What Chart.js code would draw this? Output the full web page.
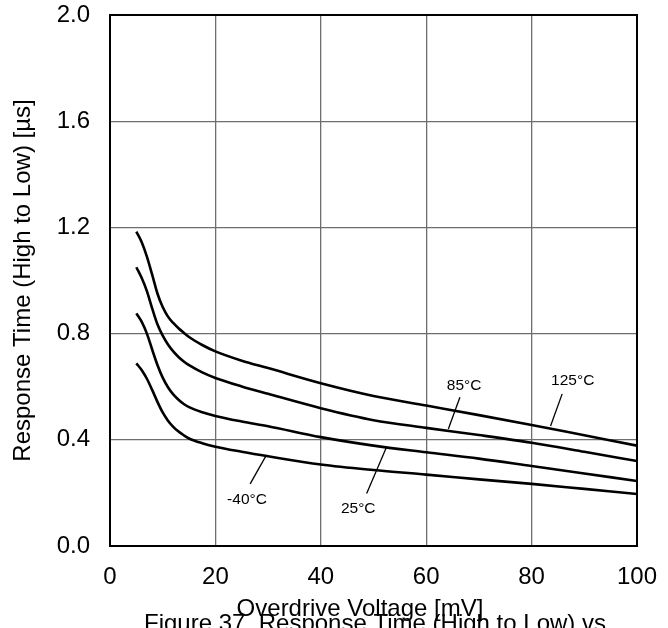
<!DOCTYPE html>
<html>
<head>
<meta charset="utf-8">
<script src="https://cdn.jsdelivr.net/npm/chart.js@4.4.1/dist/chart.umd.min.js"></script>
<style>
  html, body { margin: 0; padding: 0; background: #fff; overflow: hidden; }
  #wrap { width: 668px; height: 628px; position: relative; }
</style>
</head>
<body>
<div id="wrap"><canvas id="chart"></canvas></div>
<script>
// overdrive voltage [mV] and response time [us] per temperature
const overdrive = [5, 6, 7, 8, 9, 10, 11, 12, 13, 14, 15, 17.5, 20, 25, 30, 40, 50, 60, 70, 80, 90, 100];
const t125 = [1.184, 1.145, 1.09, 1.022, 0.951, 0.9, 0.864, 0.84, 0.82, 0.803, 0.787, 0.757, 0.733, 0.698, 0.67, 0.613, 0.565, 0.529, 0.493, 0.456, 0.417, 0.378];
const t85  = [1.05, 1.01, 0.96, 0.895, 0.835, 0.792, 0.759, 0.733, 0.712, 0.695, 0.681, 0.654, 0.633, 0.601, 0.573, 0.519, 0.474, 0.445, 0.418, 0.389, 0.355, 0.32];
const t25  = [0.876, 0.845, 0.8, 0.74, 0.682, 0.634, 0.598, 0.571, 0.551, 0.535, 0.523, 0.504, 0.49, 0.469, 0.451, 0.41, 0.378, 0.353, 0.329, 0.301, 0.273, 0.245];
const tm40 = [0.688, 0.663, 0.63, 0.588, 0.543, 0.503, 0.472, 0.449, 0.431, 0.417, 0.405, 0.387, 0.374, 0.355, 0.338, 0.307, 0.286, 0.269, 0.251, 0.234, 0.215, 0.196];

const xTicks = [0, 20, 40, 60, 80, 100];
const yTicks = [0, 0.4, 0.8, 1.2, 1.6, 2.0];

// curve labels with leader lines (data coordinates)
const curveLabels = [
  { text: '125°C', x: 87.8, y: 0.623, from: [85.8, 0.573], to: [83.6, 0.452] },
  { text: '85°C',  x: 67.2, y: 0.603, from: [66.4, 0.560], to: [64.2, 0.441] },
  { text: '25°C',  x: 47.1, y: 0.142, from: [48.7, 0.198], to: [52.5, 0.374] },
  { text: '-40°C', x: 26.0, y: 0.173, from: [26.6, 0.234], to: [29.7, 0.343] }
];

const FONT = 'Arial, "Liberation Sans", sans-serif';

function series(ys) {
  return overdrive.map((x, i) => ({ x: x, y: ys[i] }));
}

function curve(ys) {
  return {
    data: series(ys),
    borderColor: '#000',
    borderWidth: 2.6,
    pointRadius: 0,
    fill: false,
    cubicInterpolationMode: 'monotone'
  };
}

const framePlugin = {
  id: 'frame',
  beforeDatasetsDraw(chart) {
    const { ctx, chartArea: a } = chart;
    ctx.save();
    ctx.strokeStyle = '#000';
    ctx.lineWidth = 2;
    ctx.strokeRect(a.left, a.top, a.right - a.left, a.bottom - a.top);
    ctx.restore();
  },
  afterDraw(chart) {
    const { ctx } = chart;
    const xs = chart.scales.x, ys = chart.scales.y;
    ctx.save();
    ctx.fillStyle = '#000';
    ctx.strokeStyle = '#000';
    ctx.lineWidth = 1.3;
    ctx.font = '15.5px ' + FONT;
    ctx.textAlign = 'center';
    ctx.textBaseline = 'middle';
    curveLabels.forEach(l => {
      ctx.beginPath();
      ctx.moveTo(xs.getPixelForValue(l.from[0]), ys.getPixelForValue(l.from[1]));
      ctx.lineTo(xs.getPixelForValue(l.to[0]), ys.getPixelForValue(l.to[1]));
      ctx.stroke();
      ctx.fillText(l.text, xs.getPixelForValue(l.x), ys.getPixelForValue(l.y));
    });
    // x axis title and figure caption (caption runs off the bottom edge)
    ctx.font = '24px ' + FONT;
    ctx.textBaseline = 'alphabetic';
    ctx.fillText('Figure 37. Response Time (High to Low) vs', 375, 631);
    ctx.fillText('Overdrive Voltage [mV]', 360, 616);
    ctx.restore();
  }
};

new Chart(document.getElementById('chart').getContext('2d'), {
  type: 'line',
  data: {
    datasets: [curve(t125), curve(t85), curve(t25), curve(tm40)]
  },
  options: {
    responsive: true,
    maintainAspectRatio: false,
    animation: false,
    layout: { padding: { top: 15, right: 31, left: 0, bottom: 0 } },
    plugins: {
      legend: { display: false },
      tooltip: { enabled: false }
    },
    scales: {
      x: {
        type: 'linear',
        min: 0,
        max: 100,
        afterBuildTicks: s => { s.ticks = xTicks.map(v => ({ value: v })); },
        afterFit: s => { s.height = 82; s.paddingLeft = 0; s.paddingRight = 0; },
        grid: { color: '#6e6e6e', lineWidth: 1.3, drawTicks: false },
        border: { display: false },
        ticks: { color: '#000', font: { family: FONT, size: 24 }, padding: 17 }
      },
      y: {
        min: 0,
        max: 2,
        afterBuildTicks: s => { s.ticks = yTicks.map(v => ({ value: v })); },
        afterFit: s => { s.width = 110; s.paddingTop = 0; s.paddingBottom = 0; },
        grid: { color: '#6e6e6e', lineWidth: 1.3, drawTicks: false },
        border: { display: false },
        ticks: {
          color: '#000',
          font: { family: FONT, size: 24 },
          padding: 20,
          callback: v => v.toFixed(1)
        },
        title: {
          display: true,
          text: 'Response Time (High to Low) [µs]',
          color: '#000',
          font: { family: FONT, size: 24, weight: 'normal' },
          padding: { top: 9, bottom: 0 }
        }
      }
    }
  },
  plugins: [framePlugin]
});
</script>
</body>
</html>
